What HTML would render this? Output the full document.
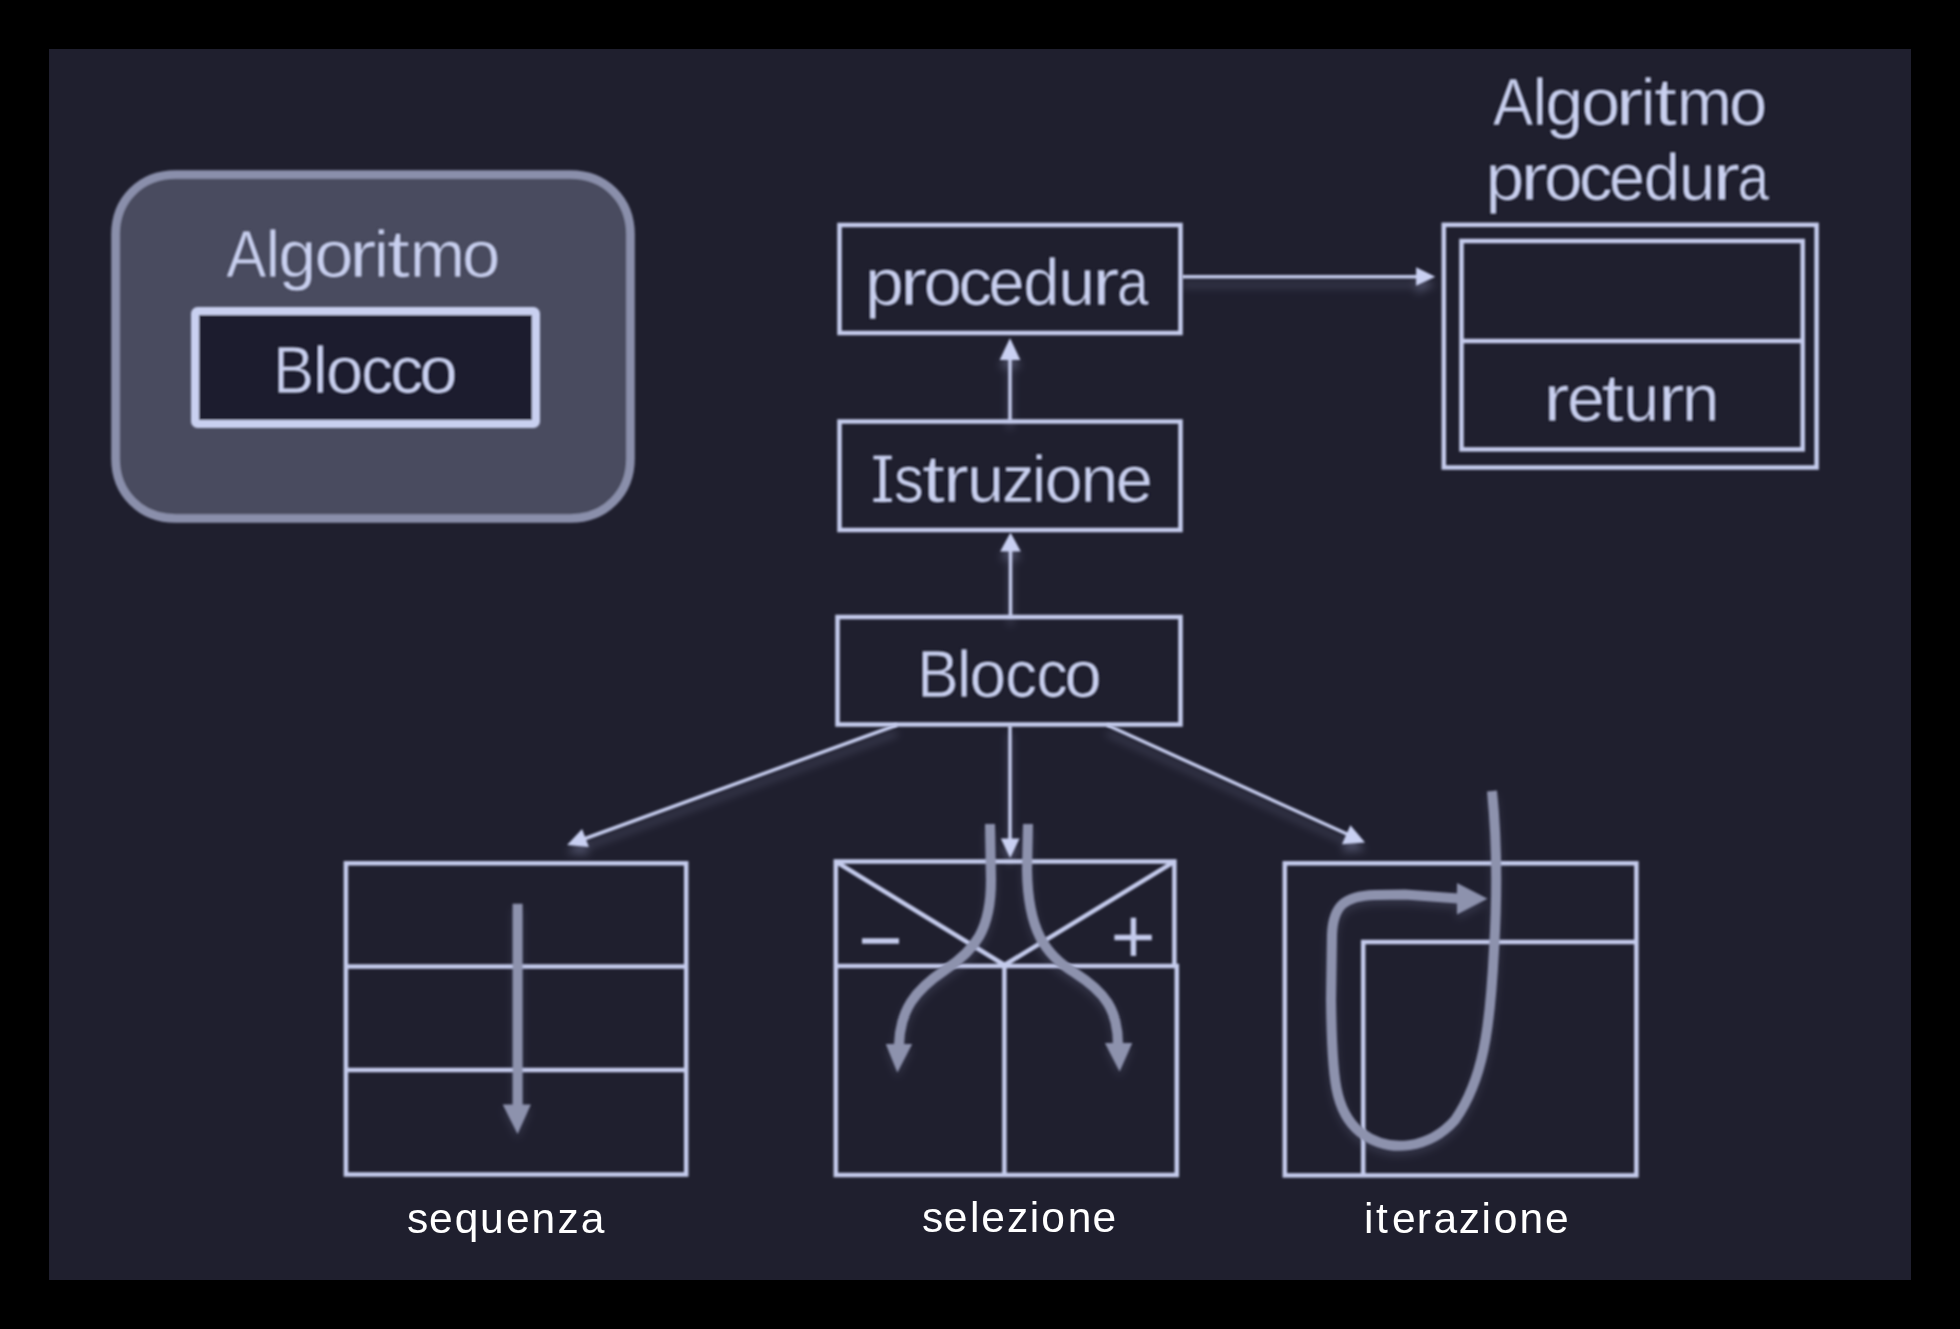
<!DOCTYPE html>
<html><head><meta charset="utf-8">
<style>
html,body{margin:0;padding:0;background:#000;width:1960px;height:1329px;overflow:hidden}
svg{position:absolute;left:0;top:0;display:block}
</style></head>
<body>
<svg width="1960" height="1329" viewBox="0 0 1960 1329">
<defs>
  <filter id="sh" x="-20%" y="-20%" width="140%" height="160%">
    <feGaussianBlur in="SourceAlpha" stdDeviation="4"/>
    <feOffset dx="0" dy="8" result="b"/>
    <feFlood flood-color="#a0a6d0" flood-opacity="0.34"/>
    <feComposite in2="b" operator="in" result="s"/>
    <feGaussianBlur in="SourceGraphic" stdDeviation="0.8" result="g"/>
    <feMerge><feMergeNode in="s"/><feMergeNode in="g"/></feMerge>
  </filter>
  <filter id="soft" x="-10%" y="-10%" width="120%" height="120%">
    <feGaussianBlur in="SourceGraphic" stdDeviation="0.9" result="g"/>
    <feGaussianBlur in="SourceAlpha" stdDeviation="4"/>
    <feOffset dx="0" dy="5" result="b"/>
    <feFlood flood-color="#a0a6d0" flood-opacity="0.16"/>
    <feComposite in2="b" operator="in" result="s"/>
    <feMerge><feMergeNode in="s"/><feMergeNode in="g"/></feMerge>
  </filter>
  <filter id="noop" x="-5%" y="-20%" width="110%" height="140%">
    <feOffset dx="0" dy="0"/>
  </filter>
  <filter id="soft2" x="-10%" y="-10%" width="120%" height="120%">
    <feGaussianBlur stdDeviation="0.8"/>
  </filter>
</defs>

<!-- panel -->
<rect x="49" y="49" width="1862" height="1231" fill="#1f1f2e"/>

<!-- rounded algorithm box -->
<path d="M175.5 174.5 L570.5 174.5 C605.3 174.5 630.5 199.7 630.5 234.5 L630.5 458.5 C630.5 493.3 605.3 518.5 570.5 518.5 L175.5 518.5 C140.7 518.5 115.5 493.3 115.5 458.5 L115.5 234.5 C115.5 199.7 140.7 174.5 175.5 174.5 Z" fill="#4a4c5f" stroke="#8a8fab" stroke-width="8.6" filter="url(#soft2)"/>
<rect x="195" y="311" width="341" height="113" rx="2.5" fill="#1f1f2e" stroke="#c9d0f0" stroke-width="8" filter="url(#soft2)"/>

<!-- connector arrows with shadow -->
<g filter="url(#sh)">
  <g stroke="#c4cbec" stroke-width="3.5" fill="none">
    <line x1="1010" y1="421" x2="1010" y2="358"/>
    <line x1="1010.5" y1="617" x2="1010.5" y2="550"/>
    <line x1="1182" y1="276.8" x2="1418" y2="276.8"/>
    <line x1="897" y1="725" x2="584" y2="839"/>
    <line x1="1010" y1="725" x2="1010" y2="840"/>
    <line x1="1107" y1="725" x2="1348" y2="834.5"/>
  </g>
  <g fill="#c9d0f2" stroke="none">
    <polygon points="1010,338 999.7,360 1020.3,360"/>
    <polygon points="1010.5,532.5 1000.2,551.5 1020.8,551.5"/>
    <polygon points="1435.3,276.8 1416.1,267.3 1416.1,285.7"/>
    <polygon points="567.1,844.9 582.1,828.9 588.8,847"/>
    <polygon points="1010.2,858 1000.8,838.4 1019.6,838.4"/>
    <polygon points="1365,842.5 1350.4,825.2 1342,844.2"/>
  </g>
</g>

<g stroke="#c4cbec" stroke-width="4.5" fill="none" filter="url(#soft2)">
  <!-- central boxes -->
  <rect x="839.5" y="225" width="341" height="108"/>
  <rect x="839.5" y="421.5" width="341" height="108.5"/>
  <rect x="837.5" y="617" width="343" height="107.5"/>
  <!-- return double box -->
  <rect x="1443.8" y="224.8" width="372.8" height="242.7"/>
  <rect x="1461.5" y="241" width="341.2" height="208.4"/>
  <line x1="1461.5" y1="341" x2="1802.7" y2="341"/>
  <!-- sequenza -->
  <rect x="345.9" y="863.3" width="340.3" height="311.2"/>
  <line x1="345.9" y1="966.4" x2="686.2" y2="966.4"/>
  <line x1="345.9" y1="1070" x2="686.2" y2="1070"/>
  <!-- selezione -->
  <polyline points="1174.4,966 1174.4,861.6 835.8,861.6 835.8,1175 1176.8,1175 1176.8,966 835.8,966"/>
  <line x1="1004.4" y1="966" x2="1004.4" y2="1175"/>
  <line x1="835.8" y1="861.6" x2="1004.5" y2="965"/>
  <line x1="1174.4" y1="861.6" x2="1004.5" y2="965"/>
  <!-- iterazione -->
  <rect x="1284.8" y="863.3" width="351.6" height="312.1"/>
  <polyline points="1636.4,942 1363.2,942 1363.2,1175.4"/>
</g>
<!-- minus / plus -->
<g stroke="#c4cbec" stroke-width="5.5" fill="none" filter="url(#soft2)">
  <line x1="862" y1="940.9" x2="899" y2="940.9"/>
  <line x1="1114.4" y1="937.4" x2="1151.8" y2="937.4"/>
  <line x1="1133.4" y1="917.7" x2="1133.4" y2="955.9"/>
</g>

<!-- gray flow arrows -->
<g filter="url(#soft)">
  <g stroke="#8d92ad" stroke-width="10" fill="none" stroke-linecap="butt">
    <line x1="517.6" y1="903.7" x2="517.6" y2="1106"/>
    <path d="M990 824 L991 880 C991 930 975 950 945 970 C915 990 900 1010 899 1045"/>
    <path d="M1028 824 L1027 870 C1028 930 1045 955 1075 973 C1105 992 1118 1010 1118 1045"/>
    <path d="M1458 898.5 L1405 894.5 L1375 895 C1345 896 1333 905 1332 935 L1331 1000 C1332 1080 1335 1112 1360 1132 C1390 1155 1430 1148 1455 1120 C1483 1080 1490 1030 1494 950 C1497 900 1497 840 1492 791" stroke-width="10"/>
  </g>
  <g fill="#8d92ad">
    <polygon points="502.7,1104.6 530.9,1104.6 517.6,1134"/>
    <polygon points="885.8,1044 912.2,1044 897.4,1072.5"/>
    <polygon points="1104.9,1043 1132.3,1043 1119.6,1071.4"/>
    <polygon points="1457,883 1487.5,898.7 1457,914.5"/>
  </g>
</g>

<!-- Tahoma-like texts -->
<g fill="#c9d0f0" font-family="Liberation Sans" font-size="66" stroke="#1f1f2e" stroke-width="1.0" filter="url(#soft2)">
  <text transform="matrix(0.912 0 0 1 226.3 277.3)" stroke="#4a4c5f">A</text>
  <text transform="matrix(1.000 0 0 1 265.6 277.3)" stroke="#4a4c5f">l</text>
  <text transform="matrix(1.025 0 0 1 278.6 277.3)" stroke="#4a4c5f">g</text>
  <text transform="matrix(1.061 0 0 1 314.5 277.3)" stroke="#4a4c5f">o</text>
  <text transform="matrix(1.250 0 0 1 348.9 277.3)" stroke="#4a4c5f">r</text>
  <text transform="matrix(1.000 0 0 1 374.0 277.3)" stroke="#4a4c5f">i</text>
  <text transform="matrix(1.250 0 0 1 387.1 277.3)" stroke="#4a4c5f">t</text>
  <text transform="matrix(0.999 0 0 1 410.1 277.3)" stroke="#4a4c5f">m</text>
  <text transform="matrix(1.044 0 0 1 462.1 277.3)" stroke="#4a4c5f">o</text>
  <text transform="matrix(0.926 0 0 1 273.3 393.3)">B</text>
  <text transform="matrix(1.000 0 0 1 313.0 393.3)">l</text>
  <text transform="matrix(1.014 0 0 1 326.0 393.3)">o</text>
  <text transform="matrix(0.965 0 0 1 361.3 393.3)">c</text>
  <text transform="matrix(1.002 0 0 1 390.3 393.3)">c</text>
  <text transform="matrix(1.048 0 0 1 419.3 393.3)">o</text>
  <text transform="matrix(1.056 0 0 1 864.9 305.3)">p</text>
  <text transform="matrix(1.250 0 0 1 899.8 305.3)">r</text>
  <text transform="matrix(1.051 0 0 1 923.6 305.3)">o</text>
  <text transform="matrix(1.016 0 0 1 958.4 305.3)">c</text>
  <text transform="matrix(0.981 0 0 1 988.4 305.3)">e</text>
  <text transform="matrix(0.987 0 0 1 1023.2 305.3)">d</text>
  <text transform="matrix(0.991 0 0 1 1058.4 305.3)">u</text>
  <text transform="matrix(1.239 0 0 1 1092.3 305.3)">r</text>
  <text transform="matrix(0.860 0 0 1 1117.0 305.3)">a</text>
  <text transform="matrix(1.000 0 0 1 873.5 502)">I</text>
  <text transform="matrix(0.900 0 0 1 893.9 502)">s</text>
  <text transform="matrix(1.250 0 0 1 922.1 502)">t</text>
  <text transform="matrix(1.161 0 0 1 943.3 502)">r</text>
  <text transform="matrix(0.999 0 0 1 967.2 502)">u</text>
  <text transform="matrix(0.983 0 0 1 1002.1 502)">z</text>
  <text transform="matrix(1.000 0 0 1 1031.7 502)">i</text>
  <text transform="matrix(1.034 0 0 1 1044.7 502)">o</text>
  <text transform="matrix(1.028 0 0 1 1080.4 502)">n</text>
  <text transform="matrix(1.014 0 0 1 1115.8 502)">e</text>
  <text transform="matrix(0.941 0 0 1 917.2 697)">B</text>
  <text transform="matrix(1.000 0 0 1 956.8 697)">l</text>
  <text transform="matrix(0.998 0 0 1 969.5 697)">o</text>
  <text transform="matrix(0.965 0 0 1 1005.3 697)">c</text>
  <text transform="matrix(0.947 0 0 1 1036.5 697)">c</text>
  <text transform="matrix(1.014 0 0 1 1064.4 697)">o</text>
  <text transform="matrix(0.912 0 0 1 1493.1 124.5)">A</text>
  <text transform="matrix(1.000 0 0 1 1532.4 124.5)">l</text>
  <text transform="matrix(1.025 0 0 1 1545.4 124.5)">g</text>
  <text transform="matrix(1.061 0 0 1 1581.3 124.5)">o</text>
  <text transform="matrix(1.250 0 0 1 1615.7 124.5)">r</text>
  <text transform="matrix(1.000 0 0 1 1640.8 124.5)">i</text>
  <text transform="matrix(1.250 0 0 1 1653.9 124.5)">t</text>
  <text transform="matrix(0.999 0 0 1 1676.9 124.5)">m</text>
  <text transform="matrix(1.044 0 0 1 1728.9 124.5)">o</text>
  <text transform="matrix(1.056 0 0 1 1485.4 200.4)">p</text>
  <text transform="matrix(1.250 0 0 1 1520.3 200.4)">r</text>
  <text transform="matrix(1.051 0 0 1 1544.1 200.4)">o</text>
  <text transform="matrix(1.016 0 0 1 1578.9 200.4)">c</text>
  <text transform="matrix(0.981 0 0 1 1608.9 200.4)">e</text>
  <text transform="matrix(0.987 0 0 1 1643.7 200.4)">d</text>
  <text transform="matrix(0.991 0 0 1 1678.9 200.4)">u</text>
  <text transform="matrix(1.239 0 0 1 1712.8 200.4)">r</text>
  <text transform="matrix(0.860 0 0 1 1737.5 200.4)">a</text>
  <text transform="matrix(1.181 0 0 1 1543.4 421)">r</text>
  <text transform="matrix(1.028 0 0 1 1566.9 421)">e</text>
  <text transform="matrix(1.211 0 0 1 1601.6 421)">t</text>
  <text transform="matrix(0.965 0 0 1 1623.6 421)">u</text>
  <text transform="matrix(1.213 0 0 1 1658.1 421)">r</text>
  <text transform="matrix(1.021 0 0 1 1681.9 421)">n</text>
  <rect x="873.4" y="455.6" width="18.4" height="3.8" stroke="none"/>
  <rect x="873.4" y="498.2" width="18.4" height="3.8" stroke="none"/>
</g>
<!-- labels -->
<g fill="#ffffff" font-family="Liberation Sans" font-size="42.5" filter="url(#noop)">
  <text x="407.0 428.9 454.7 480.0 506.1 531.4 557.6 580.7" y="1233">sequenza</text>
  <text x="922.1 943.8 970.1 981.2 1007.0 1029.8 1041.3 1067.7 1092.6" y="1232.3">selezione</text>
  <text x="1364.0 1376.0 1392.0 1416.7 1433.6 1458.8 1481.6 1493.7 1519.5 1545.0" y="1233">iterazione</text>
</g>
</svg>
</body></html>
